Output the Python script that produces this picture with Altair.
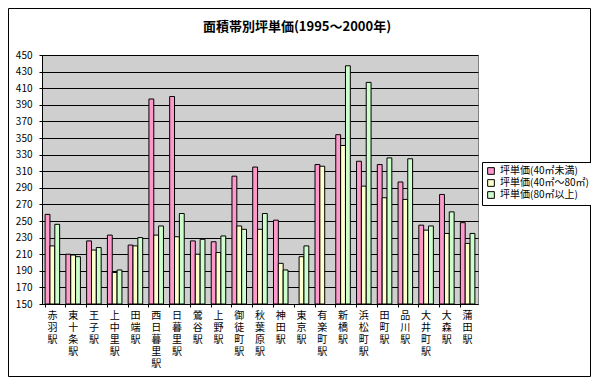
import altair as alt
import pandas as pd

stations = ["赤羽駅", "東十条駅", "王子駅", "上中里駅", "田端駅", "西日暮里駅", "日暮里駅",
            "鶯谷駅", "上野駅", "御徒町駅", "秋葉原駅", "神田駅", "東京駅", "有楽町駅",
            "新橋駅", "浜松町駅", "田町駅", "品川駅", "大井町駅", "大森駅", "蒲田駅"]
series_names = ["坪単価(40㎡未満)", "坪単価(40㎡～80㎡)", "坪単価(80㎡以上)"]
small = [258, 210, 226, 233, 221, 397, 400, 226, 225, 304, 315, 251, None, 318,
         354, 322, 318, 297, 245, 282, 248]
medium = [220, 209, 215, 188, 220, 233, 231, 210, 212, 244, 240, 199, 207, 316,
          341, 292, 278, 276, 239, 235, 223]
large = [246, 207, 218, 191, 230, 244, 259, 228, 232, 240, 259, 191, 220, None,
         437, 417, 326, 325, 244, 261, 235]
y_ticks = list(range(150, 451, 20))
colors = ["#FF99CC", "#FFFFCC", "#CCFFCC"]

rows = []
for i, s in enumerate(stations):
    for name, vals in zip(series_names, [small, medium, large]):
        v = vals[i]
        if v is not None:
            rows.append({"station": s, "series": name, "value": v})
df = pd.DataFrame(rows)

font = "Noto Sans CJK JP"

bars = alt.Chart(df).mark_bar(stroke="black", strokeWidth=1).encode(
    x=alt.X("station:N", sort=stations,
            scale=alt.Scale(paddingInner=0.3, paddingOuter=0.15),
            axis=alt.Axis(title=None, labelAngle=0, labelExpr="split(datum.label, '')",
                          labelLineHeight=12, labelFontSize=10, labelFont=font,
                          labelColor="black", domainColor="black", tickColor="black",
                          tickSize=3, bandPosition=0, labelPadding=3, labelBaseline="top")),
    xOffset=alt.XOffset("series:N", sort=series_names,
                        scale=alt.Scale(domain=series_names, paddingInner=0, paddingOuter=0)),
    y=alt.Y("value:Q", scale=alt.Scale(domain=[150, 450], zero=False, nice=False),
            axis=alt.Axis(values=y_ticks, title=None, grid=True, gridColor="black",
                          gridOpacity=1, tickColor="black", tickSize=3, domainColor="black",
                          labelFontSize=10, labelFont=font, labelColor="black",
                          labelPadding=7)),
    y2=alt.datum(150),
    color=alt.Color("series:N", sort=series_names,
                    scale=alt.Scale(domain=series_names, range=colors),
                    legend=alt.Legend(title=None, orient="none", legendX=440, legendY=107,
                                      strokeColor="black", fillColor="white", padding=4,
                                      symbolType="square", symbolSize=45,
                                      symbolStrokeColor="black", symbolStrokeWidth=1,
                                      labelFontSize=10, labelFont=font, labelColor="black",
                                      rowPadding=0, labelLimit=200)),
)

frame = alt.Chart(pd.DataFrame({"a": [0]})).mark_rect(
    fillOpacity=0, stroke="black", strokeWidth=1, clip=False
).encode(x=alt.value(-33.5), x2=alt.value(548.5), y=alt.value(-46.5), y2=alt.value(321.5))

chart = alt.layer(bars, frame).properties(
    width=436, height=249,
    autosize=alt.AutoSizeParams(type="none"),
    padding={"left": 34, "top": 47, "right": 113, "bottom": 73},
    title=alt.TitleParams("面積帯別坪単価(1995～2000年)", fontSize=13, font=font,
                          fontWeight="bold", anchor="middle", frame="group", dx=37,
                          offset=-26, color="black"),
).configure_view(fill="#cfcfcf", stroke="#808080")

chart.save("out.html", embed_options={"renderer": "svg", "actions": False})
